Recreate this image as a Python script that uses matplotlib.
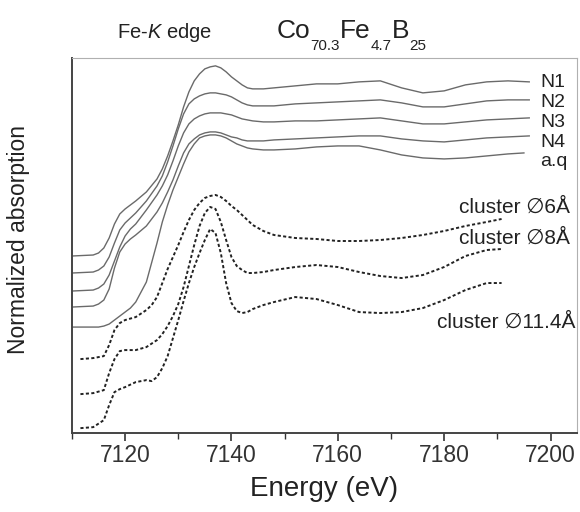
import numpy as np
import matplotlib
matplotlib.use("Agg")
import matplotlib.pyplot as plt
from matplotlib.ticker import MultipleLocator

plt.rcParams['font.family'] = ['Liberation Sans', 'DejaVu Sans']
plt.rcParams['mathtext.fontset'] = 'custom'
plt.rcParams['mathtext.rm'] = 'Liberation Sans'
plt.rcParams['mathtext.it'] = 'Liberation Sans:italic'

# energia (eV) de las curvas medidas
E_muestras = [7110, 7114, 7115, 7116, 7117, 7118, 7119, 7120, 7121, 7122, 7124, 7126, 7127,
              7128, 7129, 7130, 7131, 7132, 7133, 7134, 7135, 7136, 7137, 7138, 7139, 7140,
              7141, 7142, 7143, 7144, 7146, 7148, 7152, 7156, 7160, 7164, 7168, 7172, 7176,
              7180, 7184, 7188, 7192, 7196]
N1 = [1.77, 1.78, 1.80, 1.85, 1.95, 2.09, 2.19, 2.24, 2.28, 2.32, 2.41, 2.54, 2.64, 2.77, 2.92,
      3.08, 3.26, 3.41, 3.52, 3.59, 3.64, 3.66, 3.67, 3.65, 3.61, 3.56, 3.52, 3.48, 3.45, 3.44,
      3.44, 3.45, 3.47, 3.49, 3.49, 3.51, 3.52, 3.45, 3.40, 3.42, 3.48, 3.51, 3.52, 3.51]
N2 = [1.60, 1.61, 1.63, 1.67, 1.76, 1.90, 2.03, 2.10, 2.15, 2.20, 2.32, 2.47, 2.57, 2.71, 2.87,
      3.04, 3.19, 3.29, 3.34, 3.37, 3.39, 3.40, 3.40, 3.39, 3.38, 3.36, 3.33, 3.30, 3.28, 3.27,
      3.27, 3.27, 3.29, 3.30, 3.31, 3.32, 3.33, 3.30, 3.26, 3.26, 3.29, 3.32, 3.33, 3.33]
N3 = [1.42, 1.43, 1.45, 1.49, 1.58, 1.72, 1.86, 1.97, 2.04, 2.09, 2.23, 2.38, 2.47, 2.58, 2.72,
      2.87, 3.00, 3.09, 3.14, 3.17, 3.19, 3.20, 3.20, 3.20, 3.19, 3.18, 3.16, 3.14, 3.13, 3.12,
      3.11, 3.11, 3.12, 3.12, 3.13, 3.14, 3.15, 3.12, 3.09, 3.09, 3.11, 3.13, 3.14, 3.15]
N4 = [1.26, 1.27, 1.29, 1.33, 1.44, 1.65, 1.81, 1.89, 1.94, 1.98, 2.07, 2.21, 2.30, 2.41, 2.53,
      2.67, 2.80, 2.89, 2.94, 2.98, 3.00, 3.01, 3.01, 3.00, 2.98, 2.96, 2.95, 2.93, 2.92, 2.92,
      2.92, 2.93, 2.94, 2.95, 2.96, 2.97, 2.97, 2.94, 2.92, 2.91, 2.93, 2.95, 2.96, 2.97]

E_aq = [7110, 7114, 7115, 7116, 7117, 7118, 7119, 7120, 7121, 7122, 7124, 7126, 7127, 7128,
        7129, 7130, 7131, 7132, 7133, 7134, 7135, 7136, 7137, 7138, 7139, 7140, 7141, 7142,
        7143, 7144, 7146, 7148, 7152, 7156, 7160, 7164, 7168, 7172, 7176, 7180, 7184, 7188,
        7192, 7195]
aq = [1.06, 1.06, 1.06, 1.07, 1.09, 1.13, 1.17, 1.21, 1.25, 1.31, 1.51, 1.90, 2.11, 2.28, 2.43,
      2.56, 2.69, 2.81, 2.89, 2.95, 2.97, 2.98, 2.98, 2.97, 2.95, 2.92, 2.89, 2.87, 2.85, 2.84,
      2.83, 2.83, 2.84, 2.86, 2.87, 2.87, 2.83, 2.78, 2.75, 2.74, 2.75, 2.77, 2.79, 2.80]

# curvas calculadas (clusters)
E_c6 = [7111.6, 7114, 7116, 7117, 7118, 7119, 7120, 7122, 7124, 7125, 7126, 7127, 7128, 7129,
        7130, 7131, 7132, 7133, 7134, 7135, 7136, 7137, 7138, 7139, 7140, 7141, 7142, 7143,
        7144, 7146, 7148, 7152, 7156, 7160, 7164, 7168, 7172, 7176, 7180, 7184, 7188, 7190.8]
c6 = [0.74, 0.75, 0.77, 0.88, 1.03, 1.10, 1.13, 1.16, 1.23, 1.28, 1.36, 1.50, 1.64, 1.76, 1.88,
      2.01, 2.13, 2.23, 2.30, 2.35, 2.37, 2.38, 2.36, 2.32, 2.27, 2.23, 2.18, 2.13, 2.08, 2.02,
      1.98, 1.95, 1.94, 1.92, 1.92, 1.93, 1.95, 1.98, 2.02, 2.07, 2.11, 2.14]

E_c8 = [7111.6, 7114, 7116, 7117, 7118, 7119, 7120, 7122, 7124, 7126, 7127, 7128, 7129, 7130,
        7131, 7132, 7133, 7134, 7135, 7136, 7137, 7138, 7139, 7140, 7141, 7142, 7143, 7144,
        7146, 7148, 7152, 7156, 7160, 7164, 7168, 7172, 7176, 7180, 7184, 7188, 7190.8]
c8 = [0.39, 0.40, 0.43, 0.60, 0.74, 0.82, 0.83, 0.83, 0.86, 0.93, 0.99, 1.07, 1.17, 1.29, 1.46,
      1.67, 1.88, 2.07, 2.20, 2.26, 2.24, 2.11, 1.93, 1.76, 1.67, 1.63, 1.60, 1.60, 1.61, 1.63,
      1.66, 1.68, 1.66, 1.61, 1.57, 1.55, 1.58, 1.66, 1.77, 1.83, 1.84]

E_c11 = [7111.6, 7114, 7116, 7117, 7118, 7119, 7120, 7122, 7124, 7125, 7126, 7127, 7128, 7129,
         7130, 7131, 7132, 7133, 7134, 7135, 7136, 7137, 7138, 7139, 7140, 7141, 7142, 7143,
         7144, 7146, 7148, 7152, 7156, 7160, 7164, 7168, 7172, 7176, 7180, 7184, 7188, 7190.8]
c11 = [0.05, 0.06, 0.13, 0.28, 0.41, 0.44, 0.46, 0.51, 0.53, 0.52, 0.56, 0.65, 0.77, 0.95, 1.13,
       1.32, 1.50, 1.66, 1.80, 1.93, 2.04, 2.00, 1.80, 1.50, 1.30, 1.22, 1.20, 1.21, 1.24, 1.28,
       1.31, 1.36, 1.34, 1.28, 1.21, 1.20, 1.21, 1.25, 1.33, 1.43, 1.50, 1.50]

fig = plt.figure(figsize=(5.8, 5.12), dpi=100)
ax = fig.add_axes([0.124, 0.154, 0.871, 0.733])

gris = "#6a6a6a"
for y in [N1, N2, N3, N4]:
    ax.plot(E_muestras, y, color=gris, linewidth=1.0)
ax.plot(E_aq, aq, color=gris, linewidth=1.0)

punteado = (0, (1.6, 1.2))
ax.plot(E_c6, c6, color="#222222", linewidth=1.4, linestyle=punteado)
ax.plot(E_c8, c8, color="#222222", linewidth=1.4, linestyle=punteado)
ax.plot(E_c11, c11, color="#222222", linewidth=1.4, linestyle=punteado)

# etiquetas de las curvas
for txt, yy in [("N1", 3.50), ("N2", 3.30), ("N3", 3.10), ("N4", 2.90), ("a.q", 2.71)]:
    ax.text(7198.1, yy, txt, fontsize=14, ha="left", va="center", color="#222222")
ax.text(7203.7, 2.26, "cluster \u22056\u00c5", fontsize=15, ha="right", va="center", color="#222222")
ax.text(7203.7, 1.95, "cluster \u22058\u00c5", fontsize=15, ha="right", va="center", color="#222222")
ax.text(7204.7, 1.11, "cluster \u220511.4\u00c5", fontsize=15, ha="right", va="center", color="#222222")

ax.set_xlim(7110, 7205)
ax.set_ylim(0, 3.75)
ax.xaxis.set_major_locator(MultipleLocator(20))
ax.xaxis.set_minor_locator(MultipleLocator(10))
ax.tick_params(axis="x", which="major", direction="out", length=6, width=1.2,
               labelsize=16.5, colors="#333333", pad=2)
ax.tick_params(axis="x", which="minor", direction="out", length=4, width=1.0, colors="#333333")
ax.set_yticks([])

ax.spines["left"].set_color("#444444")
ax.spines["bottom"].set_color("#444444")
ax.spines["left"].set_linewidth(1.4)
ax.spines["bottom"].set_linewidth(1.4)
ax.spines["top"].set_color("#b0b0b0")
ax.spines["right"].set_color("#b0b0b0")

ax.set_xlabel("Energy (eV)", fontsize=20, color="#222222", labelpad=6)
ax.set_ylabel("Normalized absorption", fontsize=16.5, color="#222222")
ax.yaxis.set_label_coords(-0.082, 0.515)

fig.text(0.284, 0.936, "Fe-$\\mathit{K}$ edge", fontsize=14.5, ha="center", va="center", color="#222222")

# formula con subindices pequenos y bajos
renderer = fig.canvas.get_renderer()
piezas = [("Co", 19, 0), ("70.3", 11, 1), ("Fe", 19, 0), ("4.7", 11, 1), ("B", 19, 0), ("25", 11, 1)]
x_px = 277
for txt, fs, sub in piezas:
    y_frac = 0.9023 if sub else 0.9258
    t = fig.text(x_px / 580, y_frac, txt, fontsize=fs, ha="left", va="baseline", color="#222222")
    x_px += t.get_window_extent(renderer).width

fig.savefig("out.png", dpi=100)
